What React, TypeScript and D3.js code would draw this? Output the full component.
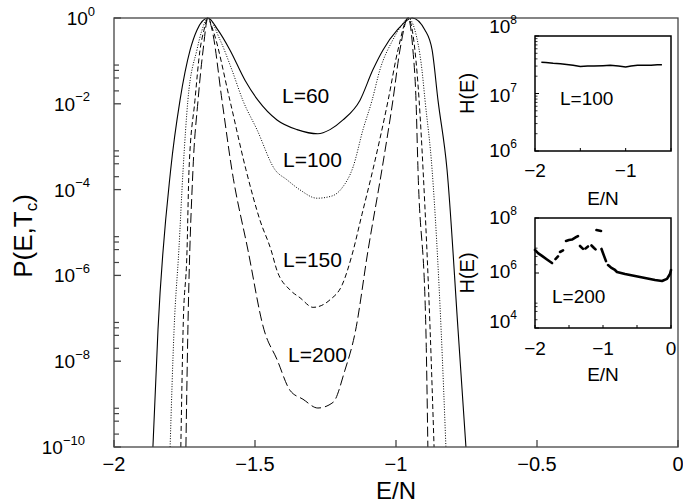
import React from "react";
import * as d3 from "d3";

// ---------- data ----------
const L60_E = [-1.862,-1.844,-1.799,-1.766,-1.730,-1.706,-1.667,-1.631,-1.589,-1.535,-1.489,-1.422,-1.351,-1.277,-1.234,-1.188,-1.128,-1.082,-1.046,-0.996,-0.943,-0.897,-0.872,-0.851,-0.819,-0.780,-0.752];
const L60_P = [1e-10,5.4e-8,2.9e-4,1.2e-2,0.18,0.52,1,0.52,0.18,3.5e-2,1.2e-2,4.2e-3,2.5e-3,2.0e-3,2.5e-3,4.2e-3,1.2e-2,6.2e-2,0.18,0.52,1,0.52,0.18,1.2e-2,2.9e-4,5.4e-8,1e-10];

const L100_E = [-1.801,-1.787,-1.770,-1.755,-1.738,-1.706,-1.688,-1.667,-1.624,-1.582,-1.543,-1.493,-1.429,-1.387,-1.340,-1.280,-1.227,-1.191,-1.152,-1.117,-1.085,-1.057,-1.011,-0.979,-0.957,-0.933,-0.908,-0.897,-0.872,-0.840,-0.823];
const L100_P = [1e-10,5.4e-8,3.9e-6,2.9e-4,1.2e-2,0.18,0.52,1,0.31,6.2e-2,1.2e-2,2.5e-3,2.9e-4,1.7e-4,9.8e-5,6.3e-5,7.1e-5,1.1e-4,3.4e-4,2.5e-3,1.2e-2,6.2e-2,0.31,0.69,1,0.52,6.2e-2,1.2e-2,2.9e-4,5.4e-8,1e-10];

const L150_E = [-1.763,-1.755,-1.741,-1.734,-1.713,-1.695,-1.681,-1.667,-1.649,-1.589,-1.532,-1.482,-1.443,-1.422,-1.376,-1.340,-1.294,-1.234,-1.191,-1.156,-1.121,-1.082,-1.028,-0.993,-0.957,-0.933,-0.918,-0.904,-0.879,-0.865];
const L150_P = [1e-10,5.4e-8,3.9e-6,2.9e-4,1.2e-2,0.18,0.52,1,0.52,1.2e-2,2.9e-4,1.9e-5,3.9e-6,1.3e-6,4.6e-7,3.0e-7,1.8e-7,2.7e-7,6.0e-7,3.0e-6,2.6e-5,2.9e-4,1.2e-2,0.18,1,0.18,1.2e-2,2.9e-4,5.4e-8,1e-10];

const L200_E = [-1.745,-1.738,-1.720,-1.702,-1.684,-1.667,-1.652,-1.617,-1.582,-1.525,-1.468,-1.422,-1.376,-1.330,-1.277,-1.223,-1.181,-1.145,-1.099,-1.050,-1.011,-0.986,-0.957,-0.940,-0.929,-0.922,-0.894,-0.887];
const L200_P = [1e-10,5.4e-8,2.9e-4,1.2e-2,0.18,1,0.52,1.2e-2,2.9e-4,3.9e-6,5.4e-8,1.1e-8,2.1e-9,1.3e-9,8.1e-10,1.1e-9,6.2e-9,4.6e-8,3.9e-6,2.9e-4,1.2e-2,0.18,1,0.18,1.2e-2,2.9e-4,5.4e-8,1e-10];

const H100_E = [-1.93,-1.88,-1.80,-1.72,-1.65,-1.58,-1.50,-1.42,-1.35,-1.25,-1.17,-1.08,-1.00,-0.94,-0.87,-0.80,-0.72,-0.65,-0.60];
const H100_H = [3.5e7,3.45e7,3.35e7,3.3e7,3.2e7,3.1e7,2.95e7,3.0e7,3.0e7,3.05e7,3.1e7,3.0e7,2.9e7,3.0e7,3.1e7,3.1e7,3.1e7,3.15e7,3.15e7];

// null = gap between measured pieces
const H200_E = [-2.000,-1.956,-1.897,-1.824,-1.750,null,-1.699,-1.662,null,-1.632,-1.588,null,-1.544,-1.500,-1.456,-1.397,-1.368,null,-1.338,-1.294,null,-1.257,-1.221,null,-1.169,-1.132,-1.110,null,-1.096,-1.029,null,-1.022,-0.985,-0.956,null,-0.926,-0.882,-0.824,-0.794,-0.676,-0.529,-0.382,-0.235,-0.132,-0.059,-0.015,0.000];
const H200_H = [6.9e6,5.3e6,4.2e6,3.1e6,2.3e6,null,3.2e6,4.0e6,null,5.8e6,6.6e6,null,1.46e7,1.58e7,1.65e7,2.0e7,2.2e7,null,9.6e6,7.5e6,null,7.8e6,9.2e6,null,1.0e7,8.1e6,7.2e6,null,3.66e7,3.37e7,null,7.5e6,4.2e6,2.7e6,null,1.95e6,1.58e6,1.29e6,1.09e6,9.2e5,7.8e5,6.6e5,5.6e5,5.1e5,6.1e5,9.2e5,1.29e6];

const MAIN_X_TICKS = [-2, -1.5, -1, -0.5, 0];
const MAIN_X_LABELS = ["−2", "−1.5", "−1", "−0.5", "0"];
const MAIN_Y_EXP = [0, -2, -4, -6, -8, -10];
const MINOR_MULT = [2, 4, 6, 8];
const INSET1_X_TICKS = [-2, -1.5, -1, -0.5];
const INSET1_X_LABELS = [{ v: -2, t: "−2" }, { v: -1, t: "−1" }];
const INSET1_Y_EXP = [6, 7, 8];
const INSET2_X_TICKS = [-2, -1.5, -1, -0.5, 0];
const INSET2_X_LABELS = [{ v: -2, t: "−2" }, { v: -1, t: "−1" }, { v: 0, t: "0" }];
const INSET2_Y_EXP = [4, 6, 8];

const FONT = "'Liberation Sans', Arial, Helvetica, sans-serif";

// ---------- scales ----------
const x = d3.scaleLinear().domain([-2, 0]).range([114, 678]);
const y = d3.scaleLog().domain([1e-10, 1]).range([447, 18]);
const x1 = d3.scaleLinear().domain([-2, -0.5]).range([535, 671]);
const y1 = d3.scaleLog().domain([1e6, 1e8]).range([151, 36]);
const x2 = d3.scaleLinear().domain([-2, 0]).range([535, 671]);
const y2 = d3.scaleLog().domain([1e4, 1e8]).range([328, 218]);

function mainPath(E: number[], P: number[]) {
  const pts = E.map((e, i) => [x(e), y(P[i])] as [number, number]);
  return d3.line().curve(d3.curveMonotoneX)(pts) || "";
}

function supLabel(key: string, xe: number, yb: number, exp: string, fs: number, sfs: number, anchor = "end") {
  return (
    <text key={key} x={xe} y={yb} textAnchor={anchor} fontSize={fs} fontFamily={FONT} fill="#000">
      10<tspan dy={-fs * 0.5} fontSize={sfs}>{exp}</tspan>
    </text>
  );
}

export default function App() {
  const h100 = d3.line<number>()
    .x((_, i) => x1(H100_E[i]))
    .y((d) => y1(d))
    .curve(d3.curveLinear)(H100_H) || "";
  const h200 = d3.line<any>()
    .defined((d) => d != null)
    .x((_, i) => x2(H200_E[i] as number))
    .y((d) => y2(d))(H200_H as any) || "";

  const expStr = (e: number) => (e < 0 ? "−" + Math.abs(e) : String(e));

  return (
    <div style={{ position: "absolute", left: 0, top: 0 }}>
      <svg width={683} height={504} style={{ display: "block", background: "#fff" }}>
        <defs>
          <clipPath id="mainclip">
            <rect x={114} y={14} width={564} height={433} />
          </clipPath>
        </defs>

        {/* curves */}
        <g clipPath="url(#mainclip)" fill="none" stroke="#000">
          <path d={mainPath(L60_E, L60_P)} strokeWidth={1.1} />
          <path d={mainPath(L100_E, L100_P)} strokeWidth={1} strokeDasharray="1,1.6" />
          <path d={mainPath(L150_E, L150_P)} strokeWidth={1} strokeDasharray="5,3" />
          <path d={mainPath(L200_E, L200_P)} strokeWidth={1} strokeDasharray="10,4" />
        </g>

        {/* main frame */}
        <rect x={114} y={18} width={564} height={429} fill="none" stroke="#444" strokeWidth={1.3} />

        {/* main x ticks */}
        {MAIN_X_TICKS.map((t, i) => (
          <g key={"mx" + i}>
            <line x1={x(t)} x2={x(t)} y1={447} y2={440} stroke="#444" strokeWidth={1.3} />
            <text x={x(t)} y={471} textAnchor="middle" fontSize={20} fontFamily={FONT}>{MAIN_X_LABELS[i]}</text>
          </g>
        ))}

        {/* main y ticks */}
        {MAIN_Y_EXP.map((e) => {
          const yy = y(Math.pow(10, e));
          const s = expStr(e);
          return (
            <g key={"my" + e}>
              <line x1={114} x2={121} y1={yy} y2={yy} stroke="#444" strokeWidth={1.3} />
              {supLabel("myl" + e, 95 - 5 * (s.length - 1), yy + 7, s, 19, 13)}
            </g>
          );
        })}
        {MAIN_Y_EXP.filter((e) => e < 0).map((e) =>
          MINOR_MULT.map((m) => {
            const yy = y(m * Math.pow(10, e));
            return <line key={"mm" + e + m} x1={114} x2={119} y1={yy} y2={yy} stroke="#444" strokeWidth={1.2} />;
          })
        )}

        {/* axis labels */}
        <text x={396} y={499} textAnchor="middle" fontSize={24} fontFamily={FONT}>E/N</text>
        <text transform="translate(32,236) rotate(-90)" textAnchor="middle" fontSize={26} fontFamily={FONT}>
          P(E,T<tspan dy={5} fontSize={17}>c</tspan><tspan dy={-5}>)</tspan>
        </text>

        {/* curve labels */}
        <text x={282} y={103} fontSize={21} fontFamily={FONT}>L=60</text>
        <text x={283} y={167} fontSize={21} fontFamily={FONT}>L=100</text>
        <text x={283} y={267} fontSize={21} fontFamily={FONT}>L=150</text>
        <text x={288} y={362} fontSize={21} fontFamily={FONT}>L=200</text>

        {/* ---------- inset 1 ---------- */}
        <rect x={535} y={36} width={136} height={115} fill="none" stroke="#000" strokeWidth={1.5} />
        <path d={h100} fill="none" stroke="#000" strokeWidth={1.5} />
        {INSET1_X_TICKS.map((t) => (
          <line key={"i1x" + t} x1={x1(t)} x2={x1(t)} y1={151} y2={148} stroke="#000" strokeWidth={1} />
        ))}
        {INSET1_X_LABELS.map((d) => (
          <text key={"i1xl" + d.v} x={x1(d.v)} y={177} textAnchor="middle" fontSize={19} fontFamily={FONT}>{d.t}</text>
        ))}
        {[6, 7].map((e) =>
          [2, 3, 4, 5, 6, 7, 8, 9].map((m) => {
            const yy = y1(m * Math.pow(10, e));
            return <line key={"i1m" + e + m} x1={535} x2={537.5} y1={yy} y2={yy} stroke="#000" strokeWidth={0.8} />;
          })
        )}
        {INSET1_Y_EXP.map((e) => {
          const yy = y1(Math.pow(10, e));
          const yb = e === 8 ? 33 : e === 7 ? yy + 8 : 157;
          return (
            <g key={"i1y" + e}>
              <line x1={535} x2={539} y1={yy} y2={yy} stroke="#000" strokeWidth={1} />
              {supLabel("i1yl" + e, 517, yb, String(e), 19, 12)}
            </g>
          );
        })}
        <text x={603} y={205} textAnchor="middle" fontSize={19} fontFamily={FONT}>E/N</text>
        <text transform="translate(474,93.5) rotate(-90)" textAnchor="middle" fontSize={20} fontFamily={FONT}>H(E)</text>
        <text x={560} y={105} fontSize={19} fontFamily={FONT}>L=100</text>

        {/* ---------- inset 2 ---------- */}
        <rect x={535} y={218} width={136} height={110} fill="none" stroke="#000" strokeWidth={1.5} />
        <path d={h200} fill="none" stroke="#000" strokeWidth={2.6} strokeLinecap="round" strokeLinejoin="round" />
        {INSET2_X_TICKS.map((t) => (
          <line key={"i2x" + t} x1={x2(t)} x2={x2(t)} y1={328} y2={325} stroke="#000" strokeWidth={1} />
        ))}
        {INSET2_X_LABELS.map((d) => (
          <text key={"i2xl" + d.v} x={x2(d.v)} y={355} textAnchor="middle" fontSize={19} fontFamily={FONT}>{d.t}</text>
        ))}
        {[4, 6].map((e) =>
          MINOR_MULT.map((m) => {
            const yy = y2(m * Math.pow(10, e));
            return <line key={"i2m" + e + m} x1={535} x2={537.5} y1={yy} y2={yy} stroke="#000" strokeWidth={0.8} />;
          })
        )}
        {INSET2_Y_EXP.map((e) => {
          const yy = y2(Math.pow(10, e));
          const yb = e === 8 ? 224 : e === 6 ? 278 : 328;
          return (
            <g key={"i2y" + e}>
              <line x1={535} x2={539} y1={yy} y2={yy} stroke="#000" strokeWidth={1} />
              {supLabel("i2yl" + e, 517, yb, String(e), 19, 12)}
            </g>
          );
        })}
        <text x={603} y={381} textAnchor="middle" fontSize={19} fontFamily={FONT}>E/N</text>
        <text transform="translate(474,273) rotate(-90)" textAnchor="middle" fontSize={20} fontFamily={FONT}>H(E)</text>
        <text x={552} y={303} fontSize={19} fontFamily={FONT}>L=200</text>
      </svg>
    </div>
  );
}
